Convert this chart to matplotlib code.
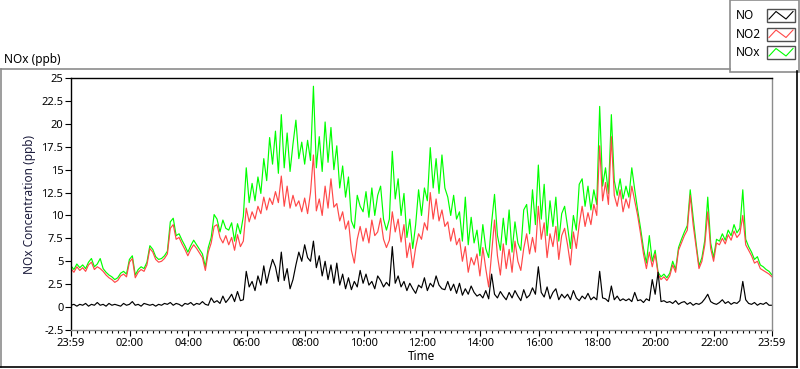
import numpy as np
import matplotlib
matplotlib.use("Agg")
import matplotlib.pyplot as plt
from matplotlib.lines import Line2D
from matplotlib.patches import Rectangle

plt.rcParams['font.family'] = ['Noto Sans', 'DejaVu Sans']

# hours after 23:59, one reading every 6 minutes
hours = [i / 10 for i in range(241)]

no2 = [
    4.2, 3.8, 4.4, 4.0, 4.3, 3.9, 4.6, 4.9, 4.1, 4.4,
    4.2, 3.9, 3.5, 3.2, 3.0, 2.7, 2.9, 3.4, 3.6, 3.3,
    4.9, 5.3, 3.2, 3.8, 4.1, 3.9, 4.6, 6.4, 6.0, 5.2,
    4.9, 5.0, 5.3, 5.8, 8.6, 9.0, 7.4, 7.6, 6.9, 6.3,
    5.6, 6.3, 6.8, 6.4, 5.9, 5.4, 4.0, 6.0, 7.0, 8.8,
    9.0, 7.6, 7.0, 7.8, 6.8, 7.6, 6.2, 7.9, 6.6, 7.2,
    10.8, 9.3, 10.4, 9.6, 11.0, 10.2, 12.0, 10.6, 11.9, 11.2,
    12.6, 11.4, 14.3, 11.0, 13.2, 10.8, 12.2, 11.0, 11.6, 10.4,
    11.9, 10.2, 12.5, 16.6, 10.5, 11.8, 10.0, 13.2, 10.8, 14.0,
    10.9, 11.3, 9.4, 10.4, 8.5, 9.4, 6.2, 4.8, 7.4, 8.8,
    7.2, 8.6, 7.0, 9.5, 7.8, 8.2, 9.7, 7.4, 6.5, 7.3,
    10.4, 8.2, 9.6, 7.1, 9.0, 5.4, 7.0, 4.3, 6.5, 8.0,
    7.4, 9.2, 8.4, 12.5, 9.6, 11.8, 9.4, 10.6, 8.8, 9.3,
    7.2, 8.6, 6.8, 7.5, 5.0, 6.6, 3.8, 5.4, 4.6, 5.8,
    3.4, 6.5, 4.2, 2.2, 5.8, 9.5, 5.6, 3.5, 6.9, 4.2,
    6.3, 3.8, 7.2, 5.0, 4.0, 6.4, 8.0, 5.8, 7.6, 6.0,
    11.0, 7.4, 9.2, 5.4, 8.0, 6.6, 8.8, 5.2, 7.8, 8.6,
    6.8, 4.6, 8.2, 6.4, 9.0, 11.0, 8.8, 10.3, 9.0, 11.2,
    10.0, 17.6, 11.6, 13.6, 11.2, 18.6, 12.2, 11.0, 12.8, 10.4,
    11.8, 10.8, 13.2, 11.6, 10.0, 8.0, 5.8, 4.2, 6.0, 4.4,
    5.8, 3.6, 3.0, 3.3, 2.9, 3.4, 4.6, 3.8, 6.2, 7.0,
    7.8, 8.4, 12.2, 9.0, 6.6, 4.2, 5.0, 6.8, 10.4, 6.4,
    5.0, 7.0, 6.8, 7.5, 6.9, 7.9, 7.3, 8.3, 7.6, 8.0,
    10.0, 6.8, 6.2, 5.6, 4.8, 5.0, 4.2, 4.0, 3.8, 3.6,
    3.3,
]

nox = [
    4.5, 4.1, 4.7, 4.3, 4.6, 4.2, 4.9, 5.3, 4.4, 4.7,
    5.3, 4.2, 3.8, 3.5, 3.3, 3.0, 3.2, 3.7, 3.9, 3.6,
    5.2, 5.6, 3.5, 4.1, 4.4, 4.2, 4.9, 6.7, 6.3, 5.5,
    5.2, 5.3, 5.6, 6.1, 9.3, 9.7, 7.8, 8.0, 7.3, 6.7,
    6.0, 6.7, 7.3, 6.8, 6.3, 5.8, 4.4, 6.5, 7.6, 10.1,
    9.6, 8.2, 9.5, 8.6, 8.4, 9.2, 7.2, 9.1, 8.0, 9.9,
    15.2, 11.4, 13.5, 11.6, 14.2, 12.4, 16.2, 13.8, 18.5, 15.6,
    19.2, 14.6, 21.0, 15.2, 19.0, 14.8, 17.8, 20.4, 16.2, 18.0,
    15.6, 18.2, 16.0, 24.1, 15.2, 18.6, 14.8, 20.2, 15.8, 19.6,
    15.0, 17.6, 13.0, 15.4, 12.0, 14.2, 9.4, 8.6, 12.2, 11.0,
    10.4, 12.6, 9.8, 13.0, 10.0, 12.2, 13.2, 9.6, 8.4, 9.6,
    17.0, 11.8, 14.0, 10.0, 12.4, 7.6, 9.6, 6.4, 9.0, 12.8,
    10.0, 13.0, 11.6, 17.4, 13.0, 16.2, 12.4, 16.6, 13.0, 12.0,
    10.0, 12.2, 9.6, 10.4, 7.2, 12.0, 6.8, 9.8, 7.0, 8.4,
    5.6, 9.0, 6.4, 5.4, 9.2, 12.3, 7.8, 6.2, 9.7, 6.8,
    10.6, 6.0, 9.3, 7.0, 6.2, 10.6, 11.2, 8.0, 12.8, 9.0,
    15.5, 9.6, 13.4, 7.8, 11.6, 8.8, 12.0, 7.2, 10.2, 11.0,
    8.8, 6.4, 10.0, 8.4, 13.4, 14.0, 11.0, 13.2, 10.6, 12.8,
    11.2, 21.9, 13.2, 15.2, 12.4, 21.0, 13.8, 12.2, 14.0, 11.8,
    13.2, 12.0, 15.2, 12.8, 10.6, 8.6, 6.4, 4.8, 7.8, 5.0,
    6.2, 3.8, 3.3, 3.6, 3.2, 3.7, 5.0, 4.1, 6.5, 7.4,
    8.2, 8.9, 12.8, 9.8, 7.0, 4.5, 5.4, 7.3, 12.0, 7.0,
    5.4, 7.4, 7.2, 8.0, 7.3, 8.4, 7.8, 9.0, 8.1, 8.6,
    12.8, 7.4, 6.6, 6.0, 5.2, 5.5, 4.6, 4.4, 4.1, 3.9,
    3.5,
]

no = [
    0.2, 0.3, 0.1, 0.3, 0.2, 0.4, 0.1, 0.3, 0.2, 0.5,
    0.2, 0.3, 0.1, 0.4, 0.2, 0.3, 0.2, 0.1, 0.4, 0.2,
    0.3, 0.6, 0.2, 0.3, 0.1, 0.4, 0.3, 0.2, 0.3, 0.1,
    0.3, 0.2, 0.4, 0.3, 0.5, 0.2, 0.4, 0.3, 0.1, 0.4,
    0.3, 0.5, 0.2, 0.4, 0.3, 0.6, 0.3, 0.2, 1.0, 0.5,
    0.7, 0.4, 1.2, 0.5, 0.9, 1.4, 0.6, 1.7, 0.7, 0.8,
    3.9, 2.2, 2.8, 1.8, 3.4, 2.4, 4.5, 2.6, 4.0, 5.2,
    4.4, 2.8, 6.0, 2.9, 4.2, 2.0, 3.0, 4.6, 6.0, 5.0,
    6.8, 5.4, 5.0, 7.2, 4.3, 5.6, 3.4, 5.0, 3.0, 4.6,
    2.6, 4.8, 2.4, 3.6, 2.0, 3.2, 1.9, 2.8, 2.2, 4.0,
    2.6, 3.6, 2.4, 2.8, 2.0, 3.4, 2.9, 2.2, 2.7, 2.3,
    6.6, 2.6, 3.4, 2.2, 2.8, 1.8, 2.6, 2.0, 1.5, 2.4,
    2.1, 3.2, 1.8, 2.6, 2.2, 3.4, 2.4, 2.0, 1.9, 2.8,
    1.8, 2.5, 1.5, 2.6, 1.3, 2.0, 1.4, 2.3, 1.6, 1.2,
    1.4, 1.0, 1.8, 0.9, 3.6, 1.4, 1.0, 1.7, 1.2, 0.8,
    1.6, 1.0, 1.8, 1.2, 0.7, 1.9, 1.0, 1.3, 2.1, 1.4,
    4.4, 1.6, 1.1, 2.2, 0.9, 1.6, 2.0, 0.8, 1.4, 1.0,
    1.4, 0.8, 1.8, 1.0, 0.7, 1.2, 0.9, 1.5, 0.8, 1.1,
    0.8, 3.9, 1.0, 0.9, 0.6, 2.3, 0.8, 1.2, 0.7, 0.9,
    0.7, 0.9, 0.6, 1.6, 0.7, 0.8, 0.5, 0.9, 0.7, 3.0,
    1.4, 3.8, 0.6, 0.7, 0.5, 0.6, 0.4, 0.7, 0.3, 0.5,
    0.6, 0.3, 0.5, 0.2, 0.4, 0.3, 0.5, 0.9, 1.4, 0.6,
    0.4, 0.3, 0.5, 0.8, 0.4, 0.6, 0.3, 0.5, 0.4, 0.7,
    2.8, 0.8, 0.4, 0.3, 0.5, 0.2, 0.4, 0.3, 0.5, 0.2,
    0.2,
]

x_ticks = [0] + [h + 1 / 60 for h in range(2, 24, 2)] + [24]
x_labels = ['23:59', '02:00', '04:00', '06:00', '08:00', '10:00', '12:00',
            '14:00', '16:00', '18:00', '20:00', '22:00', '23:59']
y_ticks = [-2.5, 0, 2.5, 5, 7.5, 10, 12.5, 15, 17.5, 20, 22.5, 25]

W, H = 800, 369
def fx(px):
    return px / W
def fy(py):
    return 1 - py / H

fig = plt.figure(figsize=(8, 3.69), dpi=100)
ax = fig.add_axes([fx(71), fy(330), fx(772) - fx(71), fy(78) - fy(330)])

ax.plot(hours, nox, color='#00ff00', lw=0.85)
ax.plot(hours, no2, color='#ff4848', lw=0.85)
ax.plot(hours, no, color='black', lw=0.85)

ax.set_xlim(0, 24)
ax.set_ylim(-2.5, 25)
ax.set_xticks(x_ticks)
ax.set_xticklabels(x_labels, fontsize=8)
ax.set_xticks([k * 0.2 + 1 / 60 for k in range(1, 120)], minor=True)
ax.set_yticks(y_ticks)
ax.set_yticklabels(['%g' % v for v in y_ticks], fontsize=8)
ax.tick_params(axis='both', which='major', length=4, width=0.8, pad=1.5)
ax.tick_params(axis='x', which='minor', length=2.5, width=0.8)
ax.set_xlabel('Time', fontsize=8.5, labelpad=1)
ax.set_ylabel('NOx Concentration (ppb)', fontsize=8.5, color='#1c1c3c', labelpad=4)

ax.spines['left'].set_color('black')
ax.spines['top'].set_color('black')
ax.spines['right'].set_color('#8c8c8c')
ax.spines['bottom'].set_color('#8c8c8c')
for s in ax.spines.values():
    s.set_linewidth(1)

# outer panel frame
fig.add_artist(Line2D([fx(0.5), fx(730)], [fy(69), fy(69)], color='#8c8c8c', lw=1.2, transform=fig.transFigure))
fig.add_artist(Line2D([fx(0.5), fx(0.5)], [fy(69), fy(367)], color='#8c8c8c', lw=1.2, transform=fig.transFigure))
fig.add_artist(Line2D([fx(0), fx(797)], [fy(367), fy(367)], color='black', lw=1.2, transform=fig.transFigure))
fig.add_artist(Line2D([fx(797), fx(797)], [fy(71), fy(367)], color='black', lw=1.2, transform=fig.transFigure))

fig.text(fx(4), fy(59), 'NOx (ppb)', fontsize=8.5, va='center', ha='left')

# legend box
fig.add_artist(Rectangle((fx(730), fy(71.5)), fx(799) - fx(730), fy(0) - fy(71.5),
                         transform=fig.transFigure, facecolor='white', edgecolor='#8c8c8c', lw=1.2))
legend_names = ['NO', 'NO2', 'NOx']
legend_colors = ['black', '#ff4848', '#00ff00']
for i, (name, col) in enumerate(zip(legend_names, legend_colors)):
    top = 9 + i * 18.5
    fig.text(fx(736), fy(top + 6.5), name, fontsize=8.5, va='center', ha='left')
    fig.add_artist(Rectangle((fx(767), fy(top + 13)), fx(795) - fx(767), fy(top) - fy(top + 13),
                             transform=fig.transFigure, facecolor='white', edgecolor='#505050', lw=1))
    fig.add_artist(Line2D([fx(769), fx(776), fx(786), fx(793)],
                          [fy(top + 10), fy(top + 2.5), fy(top + 10), fy(top + 2.5)],
                          color=col, lw=0.8, transform=fig.transFigure))

fig.savefig('out.png', dpi=100)
